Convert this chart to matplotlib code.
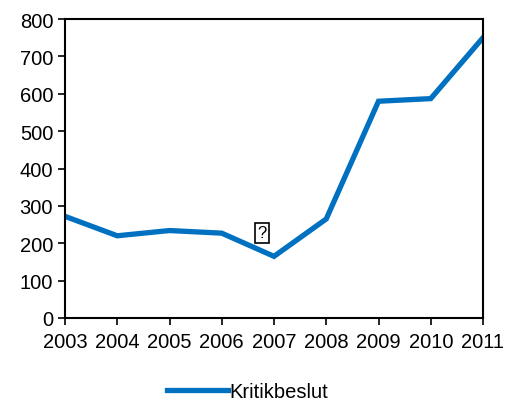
import matplotlib
matplotlib.use("Agg")
import matplotlib.pyplot as plt

plt.rcParams['font.family'] = ['Liberation Sans', 'DejaVu Sans']

years = [2003, 2004, 2005, 2006, 2007, 2008, 2009, 2010, 2011]
values = [272, 220, 234, 227, 165, 265, 580, 587, 750]
series_name = "Kritikbeslut"

fig = plt.figure(figsize=(5.07, 4.02), dpi=100)
ax = fig.add_axes([65/507, 1-319/402, (483-65)/507, (319-20)/402])
ax.plot(years, values, color='#0070C0', linewidth=3.8, label=series_name, solid_joinstyle='miter')
ax.set_xlim(2003, 2011)
ax.set_ylim(0, 800)
ax.set_yticks(range(0, 801, 100))
ax.set_xticks(years)
ax.tick_params(axis='both', labelsize=14.5, direction='out', length=5, width=1.2, color='black')
ax.tick_params(axis='x', pad=5)
for s in ax.spines.values():
    s.set_linewidth(1.5)
ax.text(2006.77, 228, "?", fontsize=12, ha='center', va='center',
        bbox=dict(boxstyle='square,pad=0.15', fc='white', ec='black', lw=1.2))
fig.legend(loc='center', bbox_to_anchor=(248/507, 1-393/402), frameon=False,
           fontsize=14.5, handlelength=3.0, handletextpad=0.1)
fig.savefig("out.png", dpi=100)
